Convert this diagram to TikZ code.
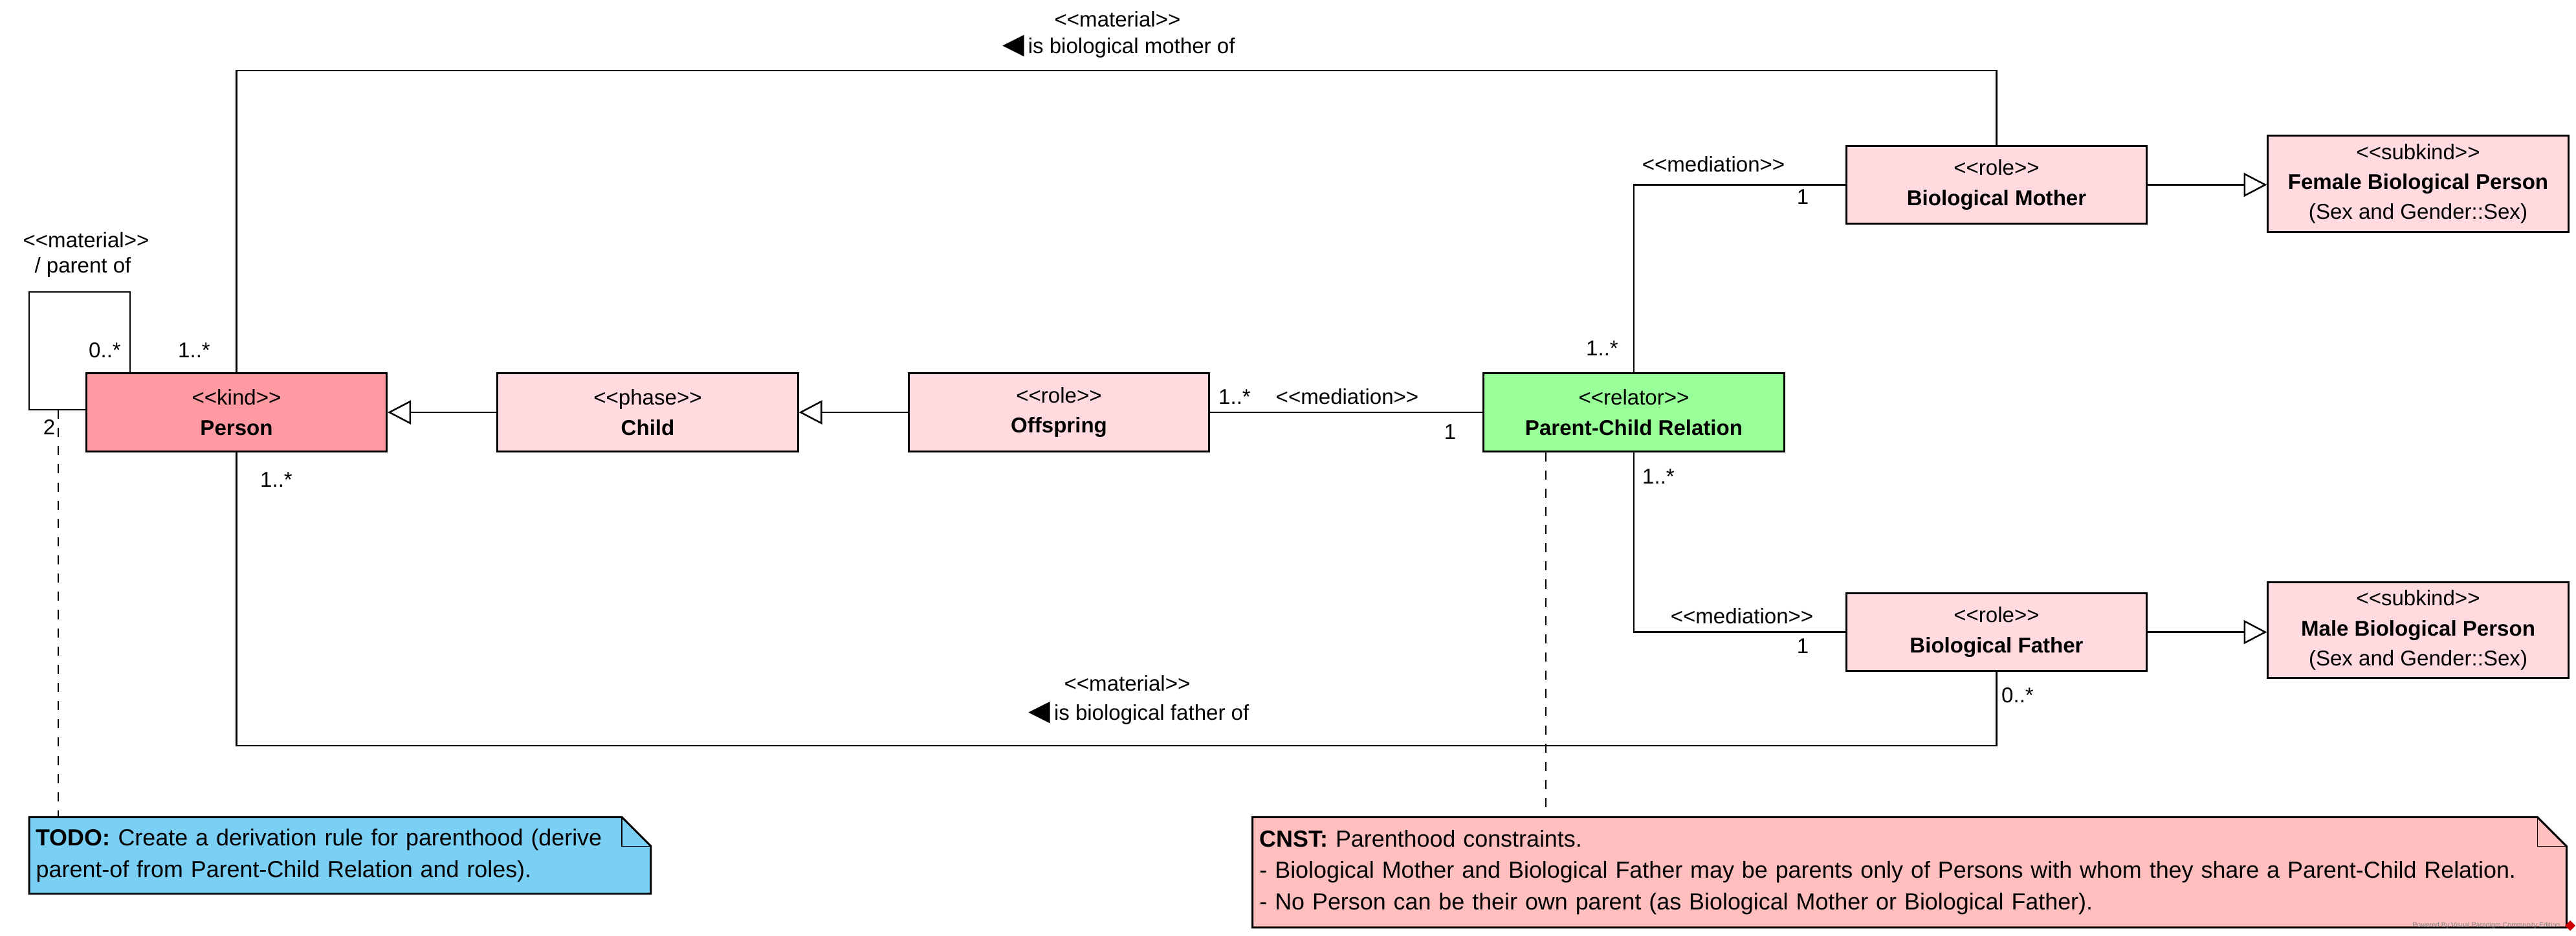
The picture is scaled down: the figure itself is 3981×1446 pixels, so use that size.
\documentclass[tikz,border=0pt]{standalone}
\usepackage{fontspec}
\setmainfont{Liberation Sans}[Ligatures=TeXOff]
\newfontfamily\symfont{DejaVu Sans}
\usetikzlibrary{arrows.meta,backgrounds}

\definecolor{kindfill}{HTML}{FF9AA2}
\definecolor{rolefill}{HTML}{FFDADF}
\definecolor{relatorfill}{HTML}{99FF99}
\definecolor{todofill}{HTML}{7ACFF5}
\definecolor{cnstfill}{HTML}{FFBFBF}

\newcommand{\boxfont}{\fontsize{9.4pt}{13.2pt}\selectfont}
\newcommand{\notefont}{\fontsize{10.2pt}{13.8pt}\selectfont}
\newcommand{\stereo}[1]{<<#1>>}
\newcommand{\readleft}{{\symfont\fontsize{12.5pt}{12pt}\selectfont ◀}}

\begin{document}
\begin{tikzpicture}[x=0.01cm, y=-0.01cm,
  cls/.style={draw, line width=0.85pt, minimum width=4.64cm, minimum height=1.2cm,
    inner sep=0pt, align=center, font=\boxfont},
  conn/.style={line width=0.7pt},
  gen/.style={line width=0.7pt, -{Triangle[open, length=10.2pt, width=10.5pt]}},
  lbl/.style={inner sep=0pt, font=\boxfont},
  notebox/.style={inner sep=0pt, align=left, font=\notefont},
  notelink/.style={line width=0.7pt, dash pattern=on 4pt off 4pt},
  noteline/.style={line width=0.85pt},
  foldline/.style={line width=0.4pt}
]
\useasboundingbox (0,0) rectangle (3981,1446);

% classes
\node[cls, fill=kindfill] (person) at (365.5,637) {\stereo{kind}\\\textbf{Person}};
\node[cls, fill=rolefill] (child) at (1001,637) {\stereo{phase}\\\textbf{Child}};
\node[cls, fill=rolefill] (offspring) at (1636.5,637) {\stereo{role}\\\textbf{Offspring}};
\node[cls, fill=relatorfill] (relator) at (2525,637) {\stereo{relator}\\\textbf{Parent-Child Relation}};
\node[cls, fill=rolefill] (mother) at (3085.5,285.5) {\stereo{role}\\\textbf{Biological Mother}};
\node[cls, fill=rolefill] (father) at (3085.5,976.5) {\stereo{role}\\\textbf{Biological Father}};
\node[cls, fill=rolefill, minimum height=1.48cm] (female) at (3737,284)
  {\stereo{subkind}\\\textbf{Female Biological Person}\\(Sex and Gender::Sex)};
\node[cls, fill=rolefill, minimum height=1.48cm] (male) at (3737,973.5)
  {\stereo{subkind}\\\textbf{Male Biological Person}\\(Sex and Gender::Sex)};

% material relations
\coordinate (topY) at (0,109);
\coordinate (botY) at (0,1152);
\draw[conn] (person.north) -- (person.north |- topY) -| (mother.north);
\draw[conn] (person.south) -- (person.south |- botY) -| (father.south);

% derived self relation
\coordinate (loopA) at (201,451);
\coordinate (loopB) at (45,633);
\draw[conn] (loopA |- person.north) -- (loopA) -| (loopB) -- (loopB -| person.west);

% generalizations
\draw[gen] (child.west) -- (person.east);
\draw[gen] (offspring.west) -- (child.east);
\draw[gen] (mother.east) -- (mother.east -| female.west);
\draw[gen] (father.east) -- (father.east -| male.west);

% mediations
\draw[conn] (offspring.east) -- (relator.west);
\draw[conn] (relator.north) |- (mother.west);
\draw[conn] (relator.south) |- (father.west);

% association labels
\node[lbl] (loopst) at (133,371) {\stereo{material}};
\node[lbl] (loopname) at (128,413) {/ parent of};
\node[lbl] (loopm1) at (162,541) {0..*};
\node[lbl] (personm1) at (300,541) {1..*};
\node[lbl] (loopm2) at (76,660) {2};
\node[lbl] (personm2) at (427,741) {1..*};

\node[lbl] (motherst) at (1727,30) {\stereo{material}};
\node[lbl] (mothername) at (1729,72) {\readleft\,is biological mother of};
\node[lbl] (fatherst) at (1742,1056) {\stereo{material}};
\node[lbl] (fathername) at (1760,1102) {\readleft\,is biological father of};
\node[lbl] (fatherm) at (3118,1074) {0..*};

\node[lbl] (offm) at (1908,613) {1..*};
\node[lbl] (offmed) at (2082,613) {\stereo{mediation}};
\node[lbl] (relm) at (2241,667) {1};

\node[lbl] (mothermed) at (2648,254) {\stereo{mediation}};
\node[lbl] (motherm) at (2786,304) {1};
\node[lbl] (relmm) at (2476,538) {1..*};

\node[lbl] (relfm) at (2563,736) {1..*};
\node[lbl] (fathermed) at (2692,952) {\stereo{mediation}};
\node[lbl] (fatherm1) at (2786,998) {1};

% notes
\node[notebox, minimum width=9.59cm, minimum height=1.17cm, text width=9.39cm] (todo) at (525.5,1321.5)
  {\textbf{TODO:} Create a derivation rule for parenthood (derive\\parent-of from Parent-Child Relation and roles).};
\node[notebox, minimum width=20.28cm, minimum height=1.69cm, text width=20.08cm] (cnst) at (2951,1347.5)
  {\textbf{CNST:} Parenthood constraints.\\
   - Biological Mother and Biological Father may be parents only of Persons with whom they share a Parent-Child Relation.\\
   - No Person can be their own parent (as Biological Mother or Biological Father).};

\begin{scope}[on background layer]
  \draw[noteline, fill=todofill] (todo.north west) -- ([xshift=-0.45cm]todo.north east)
    -- ([yshift=-0.45cm]todo.north east) -- (todo.south east) -- (todo.south west) -- cycle;
  \draw[foldline] ([xshift=-0.45cm]todo.north east) |- ([yshift=-0.45cm]todo.north east);
  \draw[noteline, fill=cnstfill] (cnst.north west) -- ([xshift=-0.45cm]cnst.north east)
    -- ([yshift=-0.45cm]cnst.north east) -- (cnst.south east) -- (cnst.south west) -- cycle;
  \draw[foldline] ([xshift=-0.45cm]cnst.north east) |- ([yshift=-0.45cm]cnst.north east);
\end{scope}

% note anchors
\coordinate (todoX) at (90,633);
\draw[notelink] (todoX) -- (todoX |- todo.north);
\coordinate (cnstX) at (2389,0);
\draw[notelink] (cnstX |- relator.south) -- (cnstX |- cnst.north);

% tool mark
\node[inner sep=0pt, anchor=east, text=gray, font=\fontsize{3pt}{3.5pt}\selectfont] (vp) at (3957,1430)
  {Powered By Visual Paradigm Community Edition};
\fill[red!80!black] (3972,1422) -- (3980,1430) -- (3972,1438) -- (3964,1430) -- cycle;
\end{tikzpicture}
\end{document}
